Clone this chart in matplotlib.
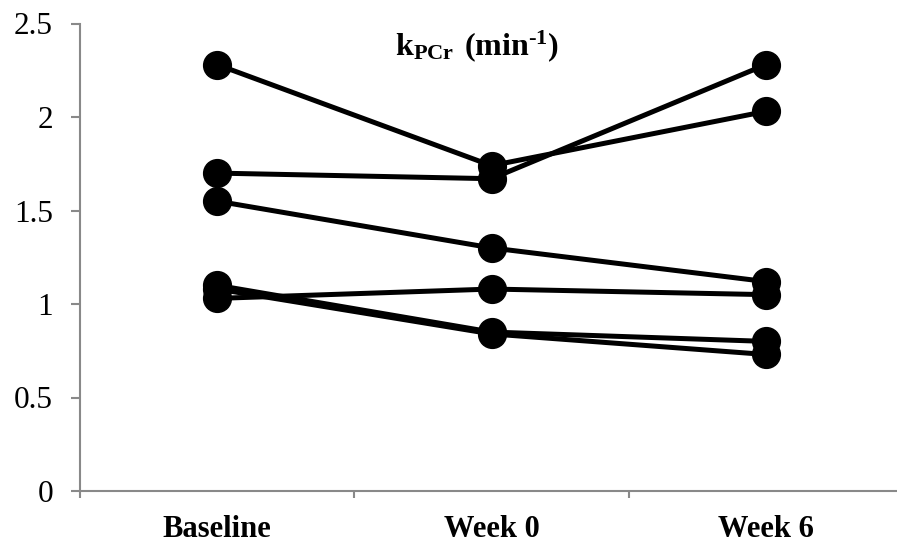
import matplotlib
matplotlib.use("Agg")
import matplotlib.pyplot as plt

# k_PCr per subject at each visit
visits = ["Baseline", "Week 0", "Week 6"]
subj_a = [2.28, 1.74, 2.03]
subj_b = [1.70, 1.67, 2.28]
subj_c = [1.55, 1.30, 1.12]
subj_d = [1.03, 1.08, 1.05]
subj_e = [1.10, 0.85, 0.80]
subj_f = [1.08, 0.84, 0.73]
y_ticks = [0, 0.5, 1, 1.5, 2, 2.5]
y_tick_labels = ["0", "0.5", "1", "1.5", "2", "2.5"]

plt.rcParams["font.family"] = ["Liberation Serif", "DejaVu Serif"]
plt.rcParams["mathtext.fontset"] = "custom"
plt.rcParams["mathtext.rm"] = "Liberation Serif"
plt.rcParams["mathtext.bf"] = "Liberation Serif:bold"

fig = plt.figure(figsize=(8.97, 5.44), dpi=100)
ax = fig.add_axes([80 / 897, 1 - 491 / 544, 823 / 897, (491 - 23.5) / 544])

x = list(range(len(visits)))
for s in [subj_a, subj_b, subj_c, subj_d, subj_e, subj_f]:
    ax.plot(x, s, color="black", linewidth=3.6, marker="o", markersize=20,
            markerfacecolor="black", markeredgecolor="black", solid_capstyle="butt")

ax.set_xlim(-0.5, 2.5)
ax.set_ylim(0, 2.5)

grey = "#898989"
for side in ["top", "right"]:
    ax.spines[side].set_visible(False)
for side in ["left", "bottom"]:
    ax.spines[side].set_color(grey)
    ax.spines[side].set_linewidth(1.5)

ax.set_yticks(y_ticks)
ax.set_yticklabels(y_tick_labels, fontsize=22.5)
ax.tick_params(axis="y", direction="out", length=6.5, width=1.5, color=grey, pad=13)

ax.set_xticks(x)
ax.set_xticklabels(visits, fontsize=22, fontweight="bold")
ax.set_xticks([-0.5, 0.5, 1.5, 2.5], minor=True)
ax.tick_params(axis="x", which="major", length=0, pad=17)
ax.tick_params(axis="x", which="minor", direction="out", length=5, width=1.5, color=grey)

ax.text(0.482, 0.932, r"$\mathbf{k_{PCr}\ (min^{\text{-}1})}$", transform=ax.transAxes,
        ha="center", va="baseline", fontsize=23)

for line in ax.get_lines():
    line.set_clip_on(False)

fig.savefig("out.png", dpi=100)
